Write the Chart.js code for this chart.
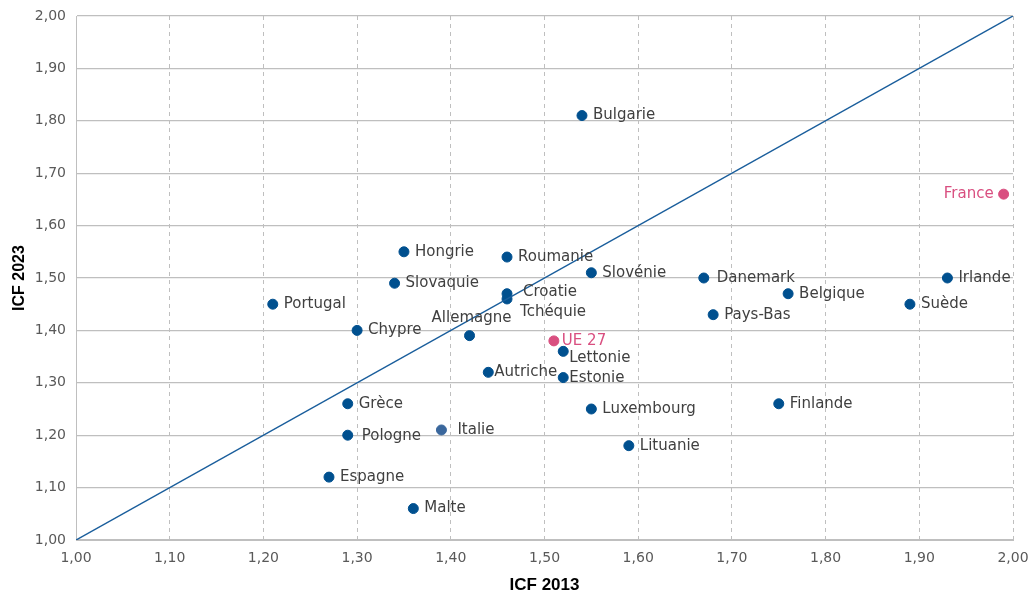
<!DOCTYPE html>
<html>
<head>
<meta charset="utf-8">
<script src="https://cdn.jsdelivr.net/npm/chart.js@4/dist/chart.umd.min.js"></script>
<style>
  html, body { margin: 0; padding: 0; background: #fff; }
  #wrap { width: 1031px; height: 596px; }
</style>
</head>
<body>
<div id="wrap"><canvas id="icf"></canvas></div>
<script>
// ------------- data -------------
const pays = ["Bulgarie", "France", "Hongrie", "Roumanie", "Slovénie", "Danemark", "Irlande",
  "Slovaquie", "Belgique", "Croatie", "Tchéquie", "Portugal", "Suède", "Pays-Bas", "Chypre",
  "Allemagne", "UE 27", "Lettonie", "Autriche", "Estonie", "Grèce", "Finlande", "Luxembourg",
  "Italie", "Pologne", "Lituanie", "Espagne", "Malte"];
const icf2013 = [1.54, 1.99, 1.35, 1.46, 1.55, 1.67, 1.93, 1.34, 1.76, 1.46, 1.46, 1.21, 1.89, 1.68, 1.30,
  1.42, 1.51, 1.52, 1.44, 1.52, 1.29, 1.75, 1.55, 1.39, 1.29, 1.59, 1.27, 1.36];
const icf2023 = [1.81, 1.66, 1.55, 1.54, 1.51, 1.50, 1.50, 1.49, 1.47, 1.47, 1.46, 1.45, 1.45, 1.43, 1.40,
  1.39, 1.38, 1.36, 1.32, 1.31, 1.26, 1.26, 1.25, 1.21, 1.20, 1.18, 1.12, 1.06];
const diagonale = [1.00, 2.00];
const ticksAxe = [1.00, 1.10, 1.20, 1.30, 1.40, 1.50, 1.60, 1.70, 1.80, 1.90, 2.00];
// ------------- data -------------

const BLEU = '#00508f';
const ROSE = '#d94f80';
const enRose = ["France", "UE 27"];

// label placement (offset from point), default is to the right
const placement = {
  "France":    { dx: -10, dy: 0, align: 'right' },
  "Allemagne": { dx: 2, dy: -18, align: 'center' },
  "Tchéquie":  { dx: 13, dy: 13 },
  "Lettonie":  { dx: 6, dy: 7 },
  "Autriche":  { dx: 6, dy: 0 },
  "Estonie":   { dx: 6, dy: 1 },
  "Croatie":   { dx: 16, dy: -2 },
  "UE 27":     { dx: 8, dy: 0 },
  "Italie":    { dx: 16, dy: 0 },
  "Pologne":   { dx: 14, dy: 1 },
  "Danemark":  { dx: 13, dy: 0 }
};

const couleurs = pays.map(p => enRose.includes(p) ? ROSE : (p === "Italie" ? '#3a679c' : BLEU));

const etiquettes = {
  id: 'etiquettes',
  afterDatasetsDraw(chart) {
    const ctx = chart.ctx;
    const meta = chart.getDatasetMeta(1);
    ctx.save();
    ctx.font = '15px "DejaVu Sans", sans-serif';
    ctx.textBaseline = 'middle';
    meta.data.forEach((pt, i) => {
      const nom = pays[i];
      const pl = placement[nom] || { dx: 11, dy: 0 };
      ctx.textAlign = pl.align || 'left';
      ctx.fillStyle = enRose.includes(nom) ? ROSE : '#404040';
      ctx.fillText(nom, pt.x + pl.dx, pt.y + pl.dy);
    });
    ctx.restore();
  }
};

const fmt = v => Number(v).toFixed(2).replace('.', ',');

new Chart(document.getElementById('icf').getContext('2d'), {
  type: 'scatter',
  data: {
    datasets: [{
      type: 'line',
      label: 'diagonale',
      data: diagonale.map(v => ({ x: v, y: v })),
      borderColor: '#1a5e9c',
      borderWidth: 1.5,
      pointRadius: 0,
      fill: false
    }, {
      label: 'pays',
      data: pays.map((p, i) => ({ x: icf2013[i], y: icf2023[i] })),
      backgroundColor: couleurs,
      borderColor: couleurs,
      pointRadius: 5,
      pointHoverRadius: 5
    }]
  },
  options: {
    responsive: true,
    maintainAspectRatio: false,
    animation: false,
    layout: { padding: { top: 16, right: 18, left: 0, bottom: 0 } },
    plugins: { legend: { display: false }, tooltip: { enabled: false } },
    scales: {
      x: {
        type: 'linear',
        min: 1, max: 2,
        afterBuildTicks: s => { s.ticks = ticksAxe.map(v => ({ value: v })); },
        afterFit: s => { s.height = 56; s.paddingRight = 0; s.paddingLeft = 0; },
        grid: { color: '#bfbfbf', lineWidth: 1, drawTicks: false },
        border: { display: true, color: '#bfbfbf', dash: [4, 4] },
        ticks: {
          padding: 10,
          color: '#595959',
          font: { family: '"DejaVu Sans", sans-serif', size: 14 },
          callback: v => fmt(v),
          maxRotation: 0
        },
        title: {
          display: true,
          text: 'ICF 2013',
          color: '#000',
          font: { family: '"Liberation Sans", Arial, sans-serif', size: 17, weight: 'bold' },
          padding: { top: 2, bottom: 0 }
        }
      },
      y: {
        type: 'linear',
        min: 1, max: 2,
        afterBuildTicks: s => { s.ticks = ticksAxe.map(v => ({ value: v })); },
        afterFit: s => { s.width = 76; s.paddingTop = 0; s.paddingBottom = 0; },
        grid: { color: '#bfbfbf', lineWidth: 1.2, drawTicks: false },
        border: { display: true, color: '#bfbfbf' },
        ticks: {
          padding: 10,
          color: '#595959',
          font: { family: '"DejaVu Sans", sans-serif', size: 14 },
          callback: v => fmt(v)
        },
        title: {
          display: true,
          text: 'ICF 2023',
          color: '#000',
          font: { family: '"Liberation Sans", Arial, sans-serif', size: 16, weight: 'bold' },
          padding: { top: 10, bottom: 4 }
        }
      }
    }
  },
  plugins: [etiquettes]
});
</script>
</body>
</html>
